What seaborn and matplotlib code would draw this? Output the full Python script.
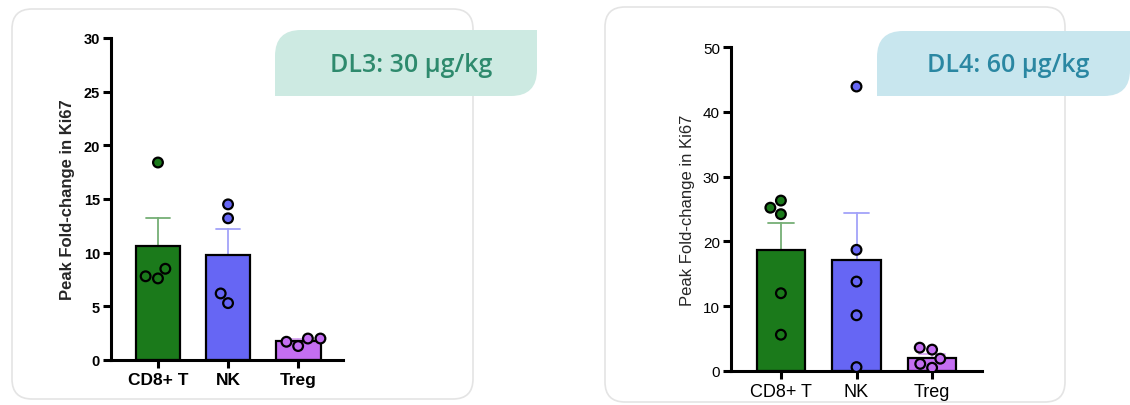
import numpy as np
import pandas as pd
import seaborn as sns
import matplotlib.pyplot as plt
from matplotlib.path import Path
from matplotlib.patches import PathPatch, FancyBboxPatch
from matplotlib.colors import to_rgba

# data
cells = ["CD8+ T", "NK", "Treg"]
dl3_cd8 = [18.4, 8.5, 7.6, 7.8]
dl3_nk = [14.5, 13.2, 6.2, 5.3]
dl3_treg = [2.0, 1.3, 2.0, 1.7]
dl4_cd8 = [26.3, 24.2, 25.2, 12.0, 5.6]
dl4_nk = [43.9, 18.7, 13.8, 8.6, 0.6]
dl4_treg = [3.6, 1.9, 0.5, 3.3, 1.1]
palette = {"CD8+ T": "#1b7a1b", "NK": "#6666f4", "Treg": "#c46ef2"}


def to_frame(cd8, nk, treg):
    rows = [(c, v) for c, vals in zip(cells, [cd8, nk, treg]) for v in vals]
    return pd.DataFrame(rows, columns=["cell", "value"])


sns.set_theme(style="ticks")
plt.rcParams["font.family"] = ["Liberation Sans", "DejaVu Sans"]

fig = plt.figure(figsize=(11.3, 4.06), dpi=100)
fig.patch.set_facecolor("white")

# background layer in pixel coordinates for the cards and badges
bg = fig.add_axes([0, 0, 1, 1])
bg.set_xlim(0, 1130)
bg.set_ylim(406, 0)
bg.axis("off")


def card(x0, y0, x1, y1):
    bg.add_patch(FancyBboxPatch((x0, y0), x1 - x0, y1 - y0,
                                boxstyle="round,pad=0,rounding_size=20",
                                facecolor="white", edgecolor="#e4e4e4", lw=1.2))


def badge(x0, y0, x1, y1, r, color, text, tcolor):
    verts = [(x0, y1), (x0, y0 + r), (x0, y0), (x0 + r, y0), (x1, y0),
             (x1, y1 - r), (x1, y1), (x1 - r, y1), (x0, y1)]
    codes = [Path.MOVETO, Path.LINETO, Path.CURVE3, Path.CURVE3, Path.LINETO,
             Path.LINETO, Path.CURVE3, Path.CURVE3, Path.CLOSEPOLY]
    bg.add_patch(PathPatch(Path(verts, codes), facecolor=color, edgecolor="none"))
    bg.text(x0 + (x1 - x0) * 0.52, (y0 + y1) / 2 + 1, text, ha="center", va="center",
            fontsize=18, fontweight="semibold", color=tcolor,
            family=["Open Sans", "DejaVu Sans"])


card(12, 10, 473, 400)
card(605, 8, 1065, 403)
badge(275, 31, 537, 97, 26, "#cdeae2", "DL3: 30 µg/kg", "#2e8a6d")
badge(877, 32, 1130, 97, 26, "#c8e6ee", "DL4: 60 µg/kg", "#2a87a2")


def panel(rect, df, ymax, step, xlim, bold, tick_fs, lab_fs, ylab_fs):
    ax = fig.add_axes(rect)
    ax.set_facecolor("none")
    sns.barplot(data=df, x="cell", y="value", hue="cell", order=cells,
                palette=palette, saturation=1, errorbar="se", capsize=0.34,
                width=0.64, edgecolor="black", linewidth=1.6, legend=False, ax=ax,
                err_kws={"linewidth": 1.3, "zorder": 0.5})
    # colour each (upper) error bar like its bar, lighter
    for line in ax.lines:
        idx = int(round(np.nanmean(line.get_xdata())))
        line.set_color(to_rgba(palette[cells[idx]], 0.6))
    sns.swarmplot(data=df, x="cell", y="value", hue="cell", order=cells,
                  palette=palette, size=7, edgecolor="black", linewidth=1.6,
                  legend=False, ax=ax, zorder=3)
    ax.set_ylim(0, ymax)
    ax.set_xlim(*xlim)
    ax.set_yticks(np.arange(0, ymax + 1, step))
    sns.despine(ax=ax)
    for s in ["left", "bottom"]:
        ax.spines[s].set_linewidth(2.2)
        ax.spines[s].set_color("black")
    w = "bold" if bold else "normal"
    ax.tick_params(axis="both", direction="out", length=6, width=2.2, colors="black")
    ax.tick_params(axis="y", labelsize=tick_fs, pad=2)
    ax.tick_params(axis="x", labelsize=lab_fs, pad=3)
    for t in ax.get_yticklabels() + ax.get_xticklabels():
        t.set_fontweight(w)
    ax.set_xlabel("")
    ax.set_ylabel("Peak Fold-change in Ki67", fontsize=ylab_fs, fontweight=w,
                  labelpad=6)
    return ax


panel([111 / 1130, 45 / 406, 232 / 1130, 322 / 406],
      to_frame(dl3_cd8, dl3_nk, dl3_treg), 30, 5, (-0.67, 2.64),
      True, 10.5, 12.5, 12)
panel([731 / 1130, 34 / 406, 251 / 1130, 324 / 406],
      to_frame(dl4_cd8, dl4_nk, dl4_treg), 50, 10, (-0.66, 2.66),
      False, 11, 13, 12)

fig.savefig("out.png", dpi=100)
